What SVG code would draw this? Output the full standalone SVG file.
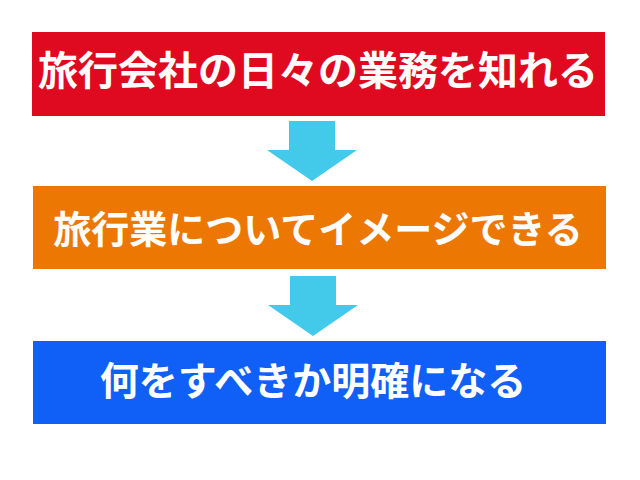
<svg xmlns="http://www.w3.org/2000/svg" width="640" height="480" viewBox="0 0 640 480">
<style>
.lbl{font-family:"Noto Sans CJK JP","Noto Sans CJK SC",sans-serif;font-weight:bold;fill:#ffffff;text-anchor:middle}
.arr{fill:#43c9e9}
</style>
<rect width="640" height="480" fill="#ffffff"/>
<g id="connectors">
<polygon class="arr" points="289,121 335,121 335,150 357,150 312,181 267,150 289,150"/>
<polygon class="arr" points="290,276 336,276 336,305 358,305 313,336 268,305 290,305"/>
</g>
<g id="node1">
<rect x="32" y="32" width="573" height="84" fill="#df0a20"/>
<text class="lbl" x="318" y="85" font-size="40">旅行会社の日々の業務を知れる</text>
</g>
<g id="node2">
<rect x="33" y="186" width="573" height="83" fill="#ed7703"/>
<text class="lbl" x="318" y="243" font-size="38">旅行業についてイメージできる</text>
</g>
<g id="node3">
<rect x="33" y="341" width="573" height="83" fill="#105ff6"/>
<text class="lbl" x="313" y="395" font-size="39">何をすべきか明確になる</text>
</g>
</svg>
